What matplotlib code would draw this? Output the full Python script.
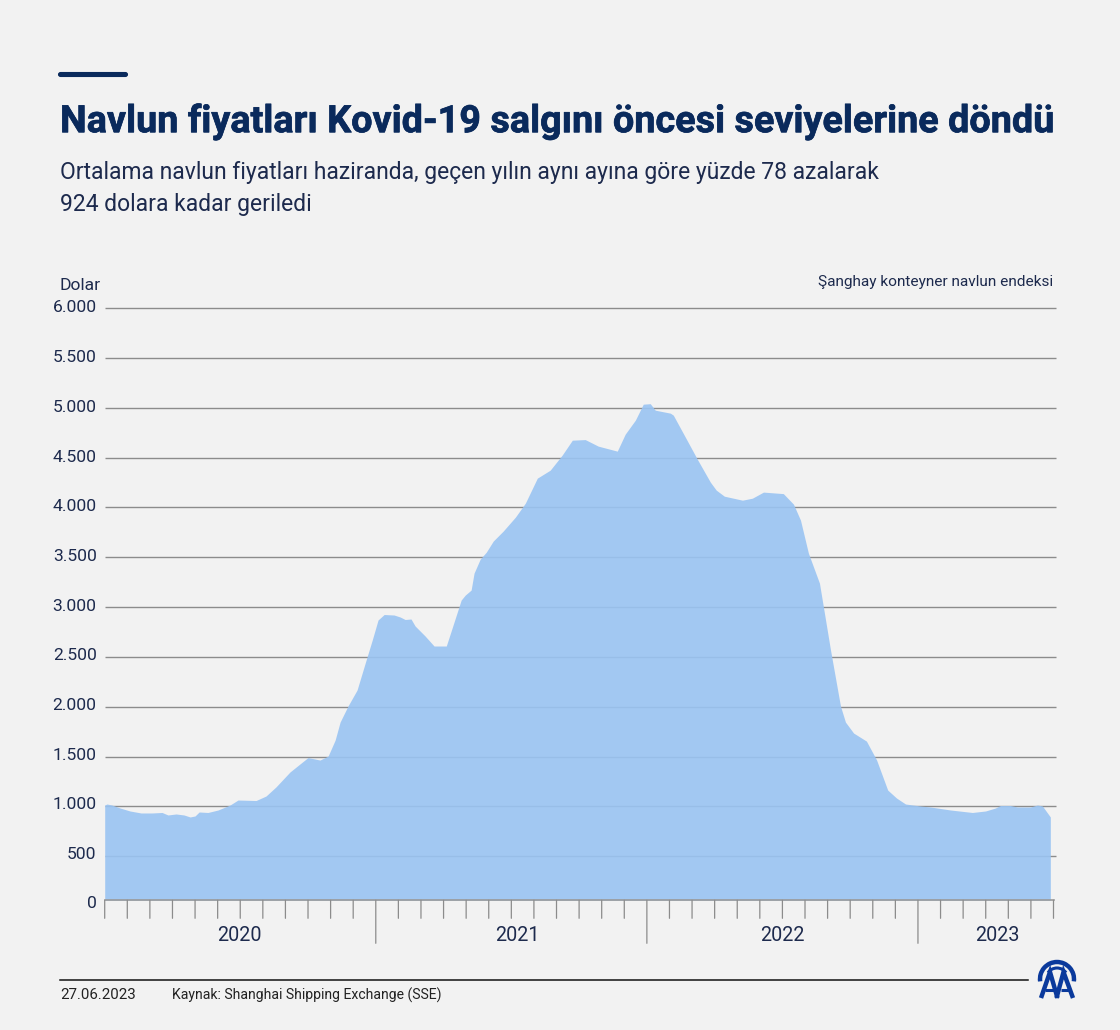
import matplotlib
matplotlib.use('Agg')
import matplotlib.pyplot as plt
import matplotlib.patheffects as pe
from matplotlib.patches import Arc, FancyBboxPatch

plt.rcParams['font.family'] = ['Roboto', 'DejaVu Sans']

# months since 2020-01
month_pos = [0.0, 0.10, 0.32, 0.68, 1.12, 1.61, 2.09, 2.54, 2.80, 3.16, 3.51, 3.78, 4.00, 4.18,
             4.57, 5.02, 5.55, 5.90, 6.70, 7.14, 7.58, 8.20, 8.64, 9.00, 9.53, 9.89, 10.20, 10.42,
             10.77, 11.17, 11.57, 11.84, 12.10, 12.37, 12.81, 13.08, 13.30, 13.56, 13.74, 14.18,
             14.58, 15.12, 15.38, 15.78, 15.96, 16.22, 16.35, 16.62, 16.89, 17.20, 17.64, 18.18,
             18.62, 19.15, 19.72, 20.25, 20.70, 21.27, 21.85, 22.69, 23.04, 23.49, 23.84, 24.15,
             24.37, 25.04, 25.17, 25.70, 26.23, 26.81, 27.07, 27.43, 28.23, 28.67, 29.16, 30.04,
             30.49, 30.80, 31.15, 31.64, 32.13, 32.57, 32.79, 33.15, 33.72, 34.17, 34.66, 35.05,
             35.45, 36.11, 36.55, 37.44, 38.41, 38.99, 39.43, 39.65, 40.09, 40.40, 40.98, 41.29,
             41.51, 41.86]
prices = [1014, 1024, 1014, 984, 954, 934, 934, 939, 914, 924, 914, 894, 904, 944,
          939, 964, 1014, 1064, 1059, 1104, 1195, 1345, 1425, 1490, 1465, 1505, 1665, 1846,
          2007, 2167, 2467, 2667, 2870, 2925, 2920, 2900, 2875, 2880, 2810, 2710,
          2609, 2609, 2790, 3070, 3120, 3170, 3340, 3480, 3550, 3662, 3762, 3902,
          4042, 4293, 4373, 4524, 4674, 4680, 4614, 4564, 4734, 4875, 5035, 5040,
          4975, 4945, 4925, 4705, 4484, 4253, 4173, 4112, 4072, 4092, 4153, 4138,
          4032, 3872, 3541, 3240, 2568, 2007, 1846, 1736, 1655, 1465, 1164, 1084,
          1024, 1004, 994, 964, 939, 954, 984, 1009, 1009, 994, 994, 1014,
          1004, 894]

y_ticks = [0, 500, 1000, 1500, 2000, 2500, 3000, 3500, 4000, 4500, 5000, 5500, 6000]
y_labels = ['0', '500', '1.000', '1.500', '2.000', '2.500', '3.000', '3.500', '4.000',
            '4.500', '5.000', '5.500', '6.000']
years = ['2020', '2021', '2022', '2023']
year_starts = [0, 12, 24, 36]
year_label_pos = [5.95, 18.25, 30.0, 39.5]

navy = '#0a2a5c'
ink = '#1d2a4d'
bg = '#f2f2f2'
logo_blue = '#0b3a9c'
W, H = 1120, 1030

fig = plt.figure(figsize=(W / 100, H / 100), dpi=100, facecolor=bg)


def fx(px):
    return px / W


def fy(py):
    return 1 - py / H


# plot box: 6000 sits at y=308, the baseline at y=900 and it cuts the axis just above 0
ax = fig.add_axes([fx(104.7), fy(900.3), fx(1053.5 - 104.7), (900.3 - 308) / H])
ax.set_facecolor('none')
y_bottom = 58
ax.set_xlim(0, 42)
ax.set_ylim(y_bottom, 6000)
for s in ax.spines.values():
    s.set_visible(False)

for v in y_ticks[1:]:
    ax.plot([0, 42.1], [v, v], color='#8c8c8c', lw=1.0, zorder=1, clip_on=False, solid_capstyle='butt')
ax.fill_between(month_pos, prices, y_bottom, color='#9ac4f3', alpha=0.9, lw=0, zorder=2)
ax.plot([0, 42], [y_bottom, y_bottom], color='#9a9a9a', lw=1.2, zorder=3, clip_on=False)

ax.set_xticks([])
ax.set_yticks([])

# month and year ticks under the baseline
for m in range(0, 43):
    length = 43 if m in year_starts[1:] else 18
    ax.annotate('', xy=(m, y_bottom), xytext=(0, -length), textcoords='offset pixels',
                arrowprops=dict(arrowstyle='-', color='#8c8c8c', lw=0.9, shrinkA=0, shrinkB=0))

# labels drift a little against the grid in the source
for lab, v in zip(y_labels, y_ticks):
    ax.annotate(lab, xy=(0, max(v, y_bottom)), xytext=(-8, 2 * (1 - v / 6000) if v else -3), textcoords='offset pixels',
                ha='right', va='center', fontsize=12.6, color=ink, annotation_clip=False)

for lab, pos in zip(years, year_label_pos):
    ax.annotate(lab, xy=(pos, y_bottom), xytext=(0, -35), textcoords='offset pixels',
                ha='center', va='center', fontsize=14.2, color=ink, annotation_clip=False)

# header
fig.add_artist(FancyBboxPatch((fx(59), fy(76)), fx(68), 3 / H, boxstyle='round,pad=0,rounding_size=0.0015',
                              transform=fig.transFigure, fc=navy, ec=navy, lw=1.5))
title = fig.text(fx(60), fy(121.5), 'Navlun fiyatları Kovid-19 salgını öncesi seviyelerine döndü', fontsize=27.2,
                 fontweight='bold', color=navy, va='center', ha='left')
title.set_path_effects([pe.withStroke(linewidth=0.5, foreground=navy)])
fig.text(fx(60), fy(172.5), 'Ortalama navlun fiyatları haziranda, geçen yılın aynı ayına göre yüzde 78 azalarak',
         fontsize=16.5, color=ink, va='center', ha='left')
fig.text(fx(60), fy(204.5), '924 dolara kadar geriledi', fontsize=16.5, color=ink, va='center', ha='left')
fig.text(fx(59.5), fy(285), 'Dolar', fontsize=12.6, color=ink, va='center', ha='left')
fig.text(fx(1053), fy(282), 'Şanghay konteyner navlun endeksi', fontsize=11.1, color=ink, va='center', ha='right')

# footer
fig.add_artist(plt.Line2D([fx(60), fx(1028)], [fy(979.5), fy(979.5)], color='#111111', lw=1.1))
fig.text(fx(60), fy(995), '27.06.2023', fontsize=10.8, color='#222222', va='center', ha='left')
fig.text(fx(172), fy(995), 'Kaynak: Shanghai Shipping Exchange (SSE)', fontsize=10.1, color='#222222', va='center', ha='left')

# AA logo, pixel box so the strokes can be placed directly
logo = fig.add_axes([fx(1030), fy(1004), fx(54), 54 / H])
logo.set_xlim(1030, 1084)
logo.set_ylim(1004, 950)
logo.axis('off')
logo.add_patch(Arc((1057, 979), 34, 34, theta1=172, theta2=368, color=logo_blue, lw=3.2))
logo.add_patch(Arc((1057, 979), 22, 22, theta1=215, theta2=325, color=logo_blue, lw=2.2))
for left, apex, right in [(1041, 1050, 1057.5), (1056.5, 1063.5, 1073)]:
    logo.plot([left, apex, right], [998, 972, 998], color=logo_blue, lw=3.2, solid_joinstyle='miter', solid_capstyle='butt')
    logo.plot([left + 4, right - 4], [990, 990], color=logo_blue, lw=2.2, solid_capstyle='butt')

fig.savefig('out.png', dpi=100, facecolor=bg)
